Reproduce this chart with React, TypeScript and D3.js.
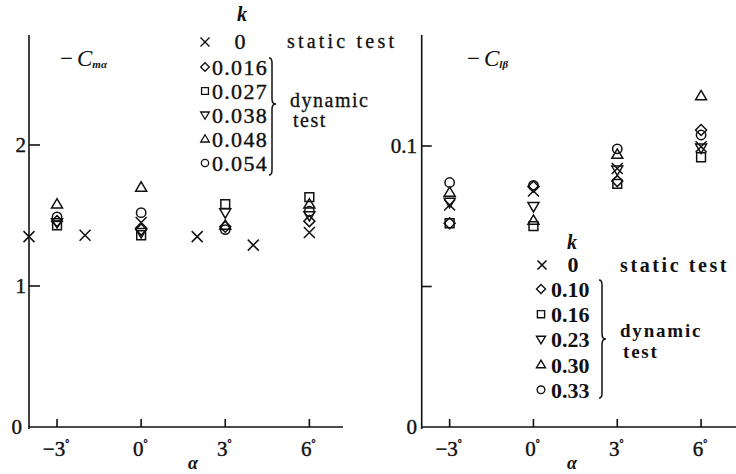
import React from "react";
import * as d3 from "d3";

// left panel: -C_m_alpha
const alphaStatic = [-4, -2, 0, 2, 4, 6];
const cmStatic = [1.35, 1.36, 1.45, 1.35, 1.29, 1.38];
const alphaDyn = [-3, 0, 3, 6];
const cm016 = [1.46, 1.4, 1.42, 1.46];
const cm027 = [1.43, 1.36, 1.58, 1.63];
const cm038 = [1.45, 1.38, 1.52, 1.5];
const cm048 = [1.58, 1.7, 1.43, 1.58];
const cm054 = [1.49, 1.52, 1.4, 1.53];
const kLeft = ["0.016", "0.027", "0.038", "0.048", "0.054"];

// right panel: -C_l_beta
const clStatic = [0.079, 0.084, 0.092, 0.0997];
const cl10 = [0.0725, 0.0855, 0.0875, 0.1057];
const cl16 = [0.0725, 0.0715, 0.0865, 0.096];
const cl23 = [0.08, 0.0785, 0.0915, 0.0993];
const cl30 = [0.0835, 0.0735, 0.097, 0.1178];
const cl33 = [0.087, 0.086, 0.099, 0.1039];
const kRight = ["0.10", "0.16", "0.23", "0.30", "0.33"];

const xTicks = [-3, 0, 3, 6];
const shapes = ["diamond", "square", "down", "up", "circle"];

const marker = (shape: string, x: number, y: number, r: number) => {
  switch (shape) {
    case "cross":
      return `M${x - r},${y - r}L${x + r},${y + r}M${x - r},${y + r}L${x + r},${y - r}`;
    case "diamond":
      return `M${x},${y - r}L${x + r},${y}L${x},${y + r}L${x - r},${y}Z`;
    case "square":
      return `M${x - r * 0.8},${y - r * 0.8}h${r * 1.6}v${r * 1.6}h${-r * 1.6}Z`;
    case "down":
      return `M${x - r},${y - r * 0.7}L${x + r},${y - r * 0.7}L${x},${y + r}Z`;
    case "up":
      return `M${x - r},${y + r * 0.7}L${x + r},${y + r * 0.7}L${x},${y - r}Z`;
    default:
      return `M${x + r * 0.85},${y}A${r * 0.85},${r * 0.85} 0 1,1 ${x - r * 0.85},${y}A${r * 0.85},${r * 0.85} 0 1,1 ${x + r * 0.85},${y}`;
  }
};

const brace = (x: number, top: number, bottom: number, mid: number) =>
  `M${x - 3},${top}Q${x},${top} ${x},${top + 5}L${x},${mid - 5}Q${x},${mid} ${x + 4},${mid}` +
  `Q${x},${mid} ${x},${mid + 5}L${x},${bottom - 5}Q${x},${bottom} ${x - 3},${bottom}`;

const serif = "'Liberation Serif', 'DejaVu Serif', serif";
const ink = "#111";

const Deg = ({ x, y, label }: { x: number; y: number; label: string }) => (
  <text x={x} y={y} fontSize={21} textAnchor="middle" stroke={ink} strokeWidth={0.4}>
    {label}
    <tspan fontSize={10} dy={-9}>°</tspan>
  </text>
);

const App = () => {
  const xL = d3.scaleLinear().domain([-4, 7.2]).range([29, 343]);
  const yL = d3.scaleLinear().domain([0, 2.78]).range([427, 35]);
  const xR = d3.scaleLinear().domain([-4, 7.25]).range([421.7, 736]);
  const yR = d3.scaleLinear().domain([0, 0.1395]).range([427, 35]);

  const seriesL = [cm016, cm027, cm038, cm048, cm054];
  const seriesR = [cl10, cl16, cl23, cl30, cl33];

  return (
    <svg
      width={736}
      height={474}
      style={{ position: "absolute", left: 0, top: 0, background: "#fff" }}
      fontFamily={serif}
      fill={ink}
    >
      <rect width={736} height={474} fill="#fff" />
      {/* ---------- left panel ---------- */}
      <g stroke={ink} strokeWidth={1.6} fill="none">
        <line x1={xL(-4)} x2={xL(-4)} y1={yL(2.78)} y2={yL(0) + 2} />
        <line x1={xL(-4)} x2={xL(7.2)} y1={yL(0)} y2={yL(0)} />
        {[1, 2].map((v) => (
          <line key={v} x1={xL(-4)} x2={xL(-4) + 11} y1={yL(v)} y2={yL(v)} />
        ))}
        {xTicks.map((t) => (
          <line key={t} x1={xL(t)} x2={xL(t)} y1={yL(0)} y2={yL(0) - 8} />
        ))}
      </g>
      <g fontSize={21} textAnchor="end" stroke={ink} strokeWidth={0.4}>
        <text x={26} y={yL(2) + 7}>2</text>
        <text x={26} y={yL(1) + 7}>1</text>
        <text x={22} y={yL(0) + 7}>0</text>
      </g>
      {xTicks.map((t) => (
        <Deg key={t} x={xL(t) - 1} y={456} label={t < 0 ? `\u2212${-t}` : `${t}`} />
      ))}
      <text x={193} y={469} fontSize={18} fontStyle="italic" fontWeight="bold" textAnchor="middle">α</text>
      <text x={60} y={66} fontSize={23}>
        −<tspan dx={4} fontStyle="italic">C</tspan>
        <tspan fontSize={11} fontWeight="bold" fontStyle="italic" dy={2}>mα</tspan>
      </text>

      <g stroke={ink} strokeWidth={1.5} fill="none">
        {alphaStatic.map((a, i) => (
          <path key={`s${i}`} d={marker("cross", xL(a), yL(cmStatic[i]), 5.5)} />
        ))}
        {seriesL.map((s, j) =>
          s.map((v, i) => (
            <path key={`${j}-${i}`} d={marker(shapes[j], xL(alphaDyn[i]), yL(v), 5.5)} />
          ))
        )}
      </g>

      {/* left legend */}
      <text x={242} y={21} fontSize={20} fontStyle="italic" fontWeight="bold" textAnchor="middle">k</text>
      <path d={marker("cross", 205, 42, 4.5)} stroke={ink} strokeWidth={1.4} fill="none" />
      <text x={240} y={49} fontSize={22} textAnchor="middle" stroke={ink} strokeWidth={0.4}>0</text>
      <text x={287} y={48} fontSize={20} letterSpacing={3.2} stroke={ink} strokeWidth={0.3}>static test</text>
      {kLeft.map((k, i) => (
        <g key={k}>
          <path d={marker(shapes[i], 205, 67 + i * 24, 4.3)} stroke={ink} strokeWidth={1.3} fill="none" />
          <text x={212} y={75 + i * 24} fontSize={22} letterSpacing={1.3} stroke={ink} strokeWidth={0.4}>{k}</text>
        </g>
      ))}
      <path d={brace(272, 58, 175, 104)} stroke={ink} strokeWidth={1.5} fill="none" />
      <text x={290} y={107} fontSize={20} letterSpacing={1.5} stroke={ink} strokeWidth={0.3}>dynamic</text>
      <text x={293} y={127} fontSize={20} letterSpacing={1.5} stroke={ink} strokeWidth={0.3}>test</text>

      {/* ---------- right panel ---------- */}
      <g stroke={ink} strokeWidth={1.6} fill="none">
        <line x1={xR(-4)} x2={xR(-4)} y1={yR(0.1395)} y2={yR(0) + 2} />
        <line x1={xR(-4)} x2={736} y1={yR(0)} y2={yR(0)} />
        {[0.05, 0.1].map((v) => (
          <line key={v} x1={xR(-4)} x2={xR(-4) + 10} y1={yR(v)} y2={yR(v)} />
        ))}
        {xTicks.map((t) => (
          <line key={t} x1={xR(t)} x2={xR(t)} y1={yR(0)} y2={yR(0) - 8} />
        ))}
      </g>
      <g fontSize={21} textAnchor="end" stroke={ink} strokeWidth={0.4}>
        <text x={417} y={yR(0.1) + 7}>0.1</text>
        <text x={417} y={yR(0) + 7}>0</text>
      </g>
      {xTicks.map((t) => (
        <Deg key={t} x={xR(t) - 1} y={456} label={t < 0 ? `\u2212${-t}` : `${t}`} />
      ))}
      <text x={572} y={469} fontSize={18} fontStyle="italic" fontWeight="bold" textAnchor="middle">α</text>
      <text x={467} y={66} fontSize={23}>
        −<tspan dx={4} fontStyle="italic">C</tspan>
        <tspan fontSize={11} fontWeight="bold" fontStyle="italic" dy={2}>lβ</tspan>
      </text>

      <g stroke={ink} strokeWidth={1.5} fill="none">
        {alphaDyn.map((a, i) => (
          <path key={`s${i}`} d={marker("cross", xR(a), yR(clStatic[i]), 5.5)} />
        ))}
        {seriesR.map((s, j) =>
          s.map((v, i) => (
            <path key={`${j}-${i}`} d={marker(shapes[j], xR(alphaDyn[i]), yR(v), 5.5)} />
          ))
        )}
      </g>

      {/* right legend */}
      <text x={572} y={249} fontSize={20} fontStyle="italic" fontWeight="bold" textAnchor="middle">k</text>
      <path d={marker("cross", 542, 265, 4.5)} stroke={ink} strokeWidth={1.6} fill="none" />
      <text x={573} y={272} fontSize={22} fontWeight="bold" textAnchor="middle">0</text>
      <text x={620} y={272} fontSize={20} fontWeight="bold" letterSpacing={2.6}>static test</text>
      {kRight.map((k, i) => (
        <g key={k}>
          <path d={marker(shapes[i], 541, 289 + i * 25.2, 4.5)} stroke={ink} strokeWidth={1.4} fill="none" />
          <text x={551} y={297 + i * 25.2} fontSize={22} fontWeight="bold">{k}</text>
        </g>
      ))}
      <path d={brace(602, 280, 398, 339)} stroke={ink} strokeWidth={1.5} fill="none" />
      <text x={620} y={337} fontSize={19} fontWeight="bold" letterSpacing={1.8}>dynamic</text>
      <text x={623} y={358} fontSize={19} fontWeight="bold" letterSpacing={1.8}>test</text>
    </svg>
  );
};

export default App;
